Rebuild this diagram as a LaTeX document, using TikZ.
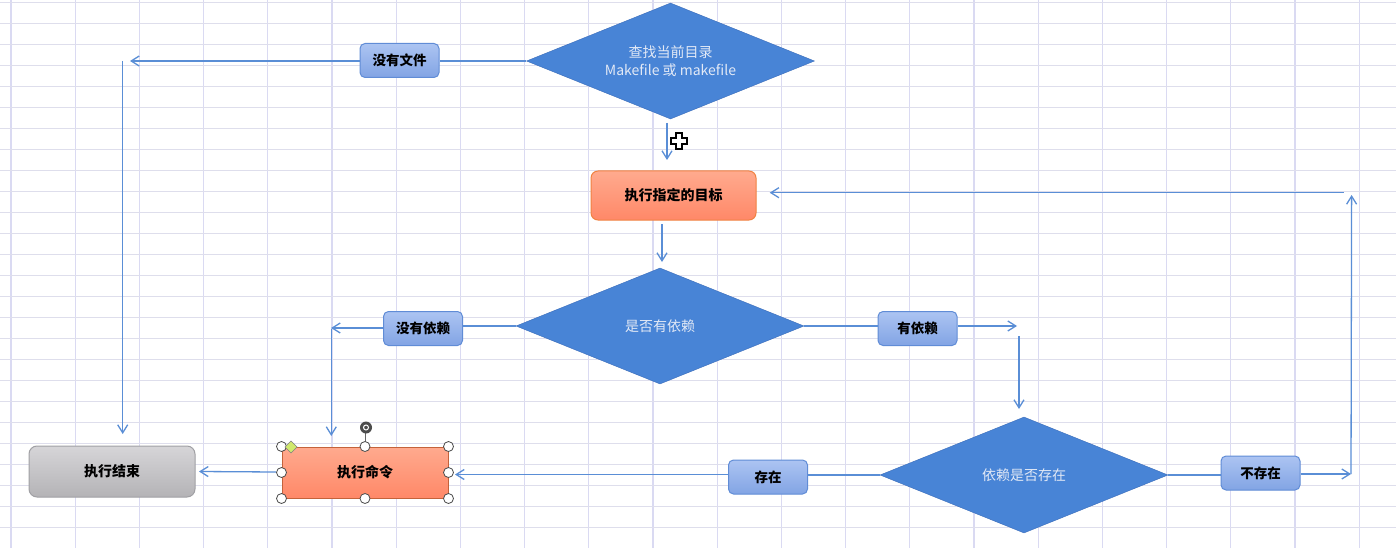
\documentclass[tikz,border=0pt]{standalone}
\usepackage{fontspec}
\newfontfamily\cjk{Noto Sans CJK SC}
\usetikzlibrary{shapes.geometric,arrows.meta}

\definecolor{gridv}{RGB}{218,218,242}
\definecolor{gridh}{RGB}{222,222,236}
\definecolor{decfill}{RGB}{72,132,214}
\definecolor{decline}{RGB}{58,108,186}
\definecolor{dectext}{RGB}{226,233,246}
\definecolor{flowc}{RGB}{90,142,214}
\definecolor{tagtop}{RGB}{172,196,242}
\definecolor{tagbot}{RGB}{130,164,228}
\definecolor{tagline}{RGB}{96,140,214}
\definecolor{proctop}{RGB}{255,170,142}
\definecolor{procbot}{RGB}{255,136,104}
\definecolor{procline}{RGB}{240,130,66}
\definecolor{runline}{RGB}{196,98,58}
\definecolor{donetop}{RGB}{214,213,216}
\definecolor{donebot}{RGB}{180,179,182}
\definecolor{doneline}{RGB}{160,160,164}

\tikzset{
  decision/.style={diamond, aspect=2.48, draw=decline, fill=decfill, minimum width=288pt,
    minimum height=116pt, inner sep=0pt, text=dectext, align=center,
    font=\cjk\fontsize{14}{18}\selectfont},
  tag/.style={draw=tagline, top color=tagtop, bottom color=tagbot, line width=1pt,
    rounded corners=5pt, minimum width=79pt, minimum height=34pt, inner sep=0pt,
    font=\cjk\bfseries\fontsize{13.5}{16}\selectfont},
  proc/.style={draw=procline, top color=proctop, bottom color=procbot, line width=1pt,
    rounded corners=7pt, minimum width=165pt, minimum height=49pt, inner sep=0pt,
    font=\cjk\bfseries\fontsize{14}{16}\selectfont},
  flow/.style={draw=flowc, line width=1.3pt, -{Straight Barb[length=8pt,width=10pt]}},
  link/.style={draw=flowc, line width=1.3pt},
  handle/.style={draw=black!70, fill=white, line width=.8pt}
}

\begin{document}
\begin{tikzpicture}[x=1pt,y=-1pt]
    \useasboundingbox[fill=white] (0,0) rectangle (1396,548);
    % grid
    \foreach \i in {0,...,21}
        \draw[gridv, line width=1.1pt] ({11+64.2*\i},0) -- ({11+64.2*\i},548);
    \foreach \j in {0,...,25}
        \draw[gridh, line width=1.4pt] (0,{2.7+21*\j}) -- (1396,{2.7+21*\j});

    % nodes
    \node[decision] (find) at (670.5,61) {查找当前目录\\Makefile 或 makefile};
    \node[tag] (nofile) at (399.5,60.5) {没有文件};
    \node[proc] (target) at (673.5,195.5) {执行指定的目标};
    \node[decision] (hasdep) at (660,326) {是否有依赖};
    \node[tag] (nodep) at (423,328.5) {没有依赖};
    \node[tag] (withdep) at (917.5,328.5) {有依赖};
    \node[decision] (exist) at (1024,475) {依赖是否存在};
    \node[tag] (yes) at (768,477) {存在};
    \node[tag] (no) at (1260.5,473) {不存在};
    \node[proc, rounded corners=0pt, draw=runline, minimum width=166pt, minimum height=51pt] (run) at (365,472.5) {执行命令};
    \node[proc, draw=doneline, top color=donetop, bottom color=donebot, rounded corners=8pt, minimum width=166pt, minimum height=51pt] (done) at (112,471.5) {执行结束};

    % free ends
    \coordinate (nofileEnd) at (130,61);
    \coordinate (leftTop) at (122.7,61);
    \coordinate (leftBot) at (122.7,434);
    \coordinate (findOut) at (667,123);
    \coordinate (targetIn) at (667,160);
    \coordinate (targetOut) at (662,224);
    \coordinate (hasdepIn) at (662,262);
    \coordinate (nodepEnd) at (331,328);
    \coordinate (nodepTop) at (331.3,329);
    \coordinate (runTop) at (331.3,436);
    \coordinate (withdepEnd) at (1017,326);
    \coordinate (rightTop) at (1019,336);
    \coordinate (existIn) at (1019,409);
    \coordinate (noEnd) at (1351,474);
    \coordinate (upTop) at (1351.6,195);
    \coordinate (backStart) at (1343.6,192.7);
    \coordinate (backEnd) at (769.7,192.7);
    \coordinate (runRight) at (455,474.5);
    \coordinate (runOut) at (276,472);
    \coordinate (doneIn) at (199,471.5);

    % connectors
    \draw[link] (find.west) -- (find.west -| nofile.east);
    \draw[flow] (nofile.west |- nofileEnd) -- (nofileEnd);
    \draw[flow] (leftTop) -- (leftBot);
    \draw[flow] (findOut) -- (targetIn);
    \draw[flow] (targetOut) -- (hasdepIn);
    \draw[link] (hasdep.west) -- (hasdep.west -| nodep.east);
    \draw[flow] (nodep.west |- nodepEnd) -- (nodepEnd);
    \draw[flow] (nodepTop) -- (runTop);
    \draw[link] (hasdep.east) -- (hasdep.east -| withdep.west);
    \draw[flow] (withdep.east |- withdepEnd) -- (withdepEnd);
    \draw[flow] (rightTop) -- (existIn);
    \draw[link] (exist.east) -- (exist.east -| no.west);
    \draw[flow] (no.east |- noEnd) -- (noEnd);
    \draw[flow] (noEnd) -- (upTop);
    \draw[flow] (backStart) -- (backEnd);
    \draw[link] (exist.west) -- (exist.west -| yes.east);
    \draw[flow] (yes.west |- runRight) -- (runRight);
    \draw[flow] (runOut) -- (doneIn);

    % selection handles on the command box
    \draw[black!60, line width=.8pt] (run.north) -- ++(0,-15);
    \foreach \a in {north west,north,north east,east,south east,south,south west,west}
        \draw[handle] (run.\a) circle (5pt);
    \draw[black!50, fill=yellow!70!green!60] (291,441) -- (297,447) -- (291,453) -- (285,447) -- cycle;
    \fill[black!70] (366,427.5) circle (6pt);
    \draw[white, line width=1pt] (366,427.5) circle (2.5pt);

    % mouse cursor
    \draw[black, fill=white, line width=1.5pt] (676,133) -- (682,133) -- (682,138) -- (687,138) -- (687,144)
        -- (682,144) -- (682,149) -- (676,149) -- (676,144) -- (671,144) -- (671,138) -- (676,138) -- cycle;
\end{tikzpicture}
\end{document}
